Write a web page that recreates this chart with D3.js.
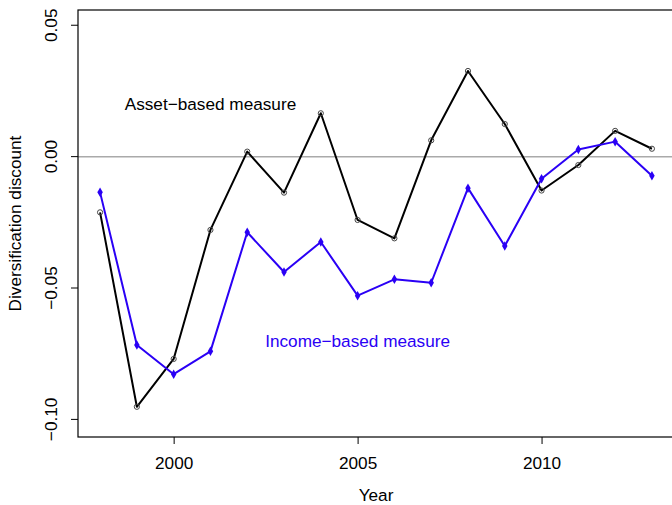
<!DOCTYPE html>
<html><head><meta charset="utf-8">
<script src="https://cdn.jsdelivr.net/npm/d3@7"></script>
<style>body{margin:0;background:#fff}svg{display:block;font-family:"Liberation Sans",Arial,sans-serif}</style>
</head><body><svg id="c" width="672" height="505"></svg>
<script>
const years = [1998,1999,2000,2001,2002,2003,2004,2005,2006,2007,2008,2009,2010,2011,2012,2013];
const assetBased = [-0.0212,-0.0952,-0.0770,-0.0279,0.0019,-0.0137,0.0165,-0.0241,-0.0311,0.0062,0.0326,0.0124,-0.0129,-0.0032,0.0098,0.0030];
const incomeBased = [-0.0136,-0.0717,-0.0828,-0.0741,-0.0288,-0.0439,-0.0325,-0.0529,-0.0467,-0.0480,-0.0120,-0.0340,-0.0084,0.0027,0.0057,-0.0073];
const xTicks = [2000,2005,2010];
const yTicks = [-0.10,-0.05,0.00,0.05];
const yTickLabels = ["\u22120.10","\u22120.05","0.00","0.05"];

const svg = d3.select("#c");
const L=78, R=674, T=10, B=437;
const x = d3.scaleLinear().domain([1997.4,2013.6]).range([L,R]);
const y = d3.scaleLinear().domain([-0.1067,0.0558]).range([B,T]);
const fs = 17.2;

// zero reference line
svg.append("line").attr("x1",L).attr("x2",R).attr("y1",y(0)).attr("y2",y(0))
  .attr("stroke","#aaaaaa").attr("stroke-width",1.5);

// box
svg.append("rect").attr("x",L).attr("y",T).attr("width",R-L).attr("height",B-T)
  .attr("fill","none").attr("stroke","#000").attr("stroke-width",1.2);

// x axis
const xa = svg.append("g").attr("transform",`translate(0,${B})`)
  .call(d3.axisBottom(x).tickValues(xTicks).tickFormat(d3.format("d")).tickSize(7).tickSizeOuter(0));
xa.select(".domain").remove();
xa.selectAll("text").attr("font-size",fs).attr("font-family","Liberation Sans, Arial, sans-serif").attr("dy","1.3em").attr("fill","#000");
xa.selectAll("line").attr("stroke","#000");

// y axis
const ya = svg.append("g").attr("transform",`translate(${L},0)`)
  .call(d3.axisLeft(y).tickValues(yTicks).tickFormat((d,i)=>yTickLabels[i]).tickSize(7).tickSizeOuter(0));
ya.select(".domain").remove();
ya.selectAll("line").attr("stroke","#000");
ya.selectAll("text").attr("font-size",fs).attr("font-family","Liberation Sans, Arial, sans-serif").attr("fill","#000")
  .attr("text-anchor","middle").attr("x",0).attr("dy",0)
  .attr("transform",function(d){return `translate(-21,${y(d)}) rotate(-90)`;})
  .attr("y",0);
ya.selectAll(".tick").attr("transform",null);
ya.selectAll(".tick line").attr("y1",d=>y(d)).attr("y2",d=>y(d));

// axis titles
svg.append("text").attr("x",(L+R)/2).attr("y",501).attr("text-anchor","middle").attr("font-size",fs).text("Year");
svg.append("text").attr("transform",`translate(21,${(T+B)/2}) rotate(-90)`).attr("text-anchor","middle").attr("font-size",fs).text("Diversification discount");

const line = d3.line().x((d,i)=>x(years[i])).y(d=>y(d));
const blue = "#2a00f5";

// asset-based
svg.append("path").datum(assetBased).attr("d",line).attr("fill","none").attr("stroke","#000").attr("stroke-width",2).attr("stroke-linejoin","round");
svg.append("g").selectAll("circle").data(assetBased).join("circle")
  .attr("cx",(d,i)=>x(years[i])).attr("cy",d=>y(d)).attr("r",2.6)
  .attr("fill","none").attr("stroke","#444").attr("stroke-width",1);

// income-based
svg.append("path").datum(incomeBased).attr("d",line).attr("fill","none").attr("stroke",blue).attr("stroke-width",2).attr("stroke-linejoin","round");
svg.append("g").selectAll("path").data(incomeBased).join("path")
  .attr("transform",(d,i)=>`translate(${x(years[i])},${y(d)})`)
  .attr("d",d3.symbol(d3.symbolDiamond,26)).attr("fill",blue);

// labels
svg.append("text").attr("x",x(2001)).attr("y",y(0.02)+6).attr("text-anchor","middle").attr("font-size",fs).attr("fill","#000").text("Asset\u2212based measure");
svg.append("text").attr("x",x(2005)).attr("y",y(-0.07)+6).attr("text-anchor","middle").attr("font-size",fs).attr("fill",blue).text("Income\u2212based measure");
</script></body></html>
